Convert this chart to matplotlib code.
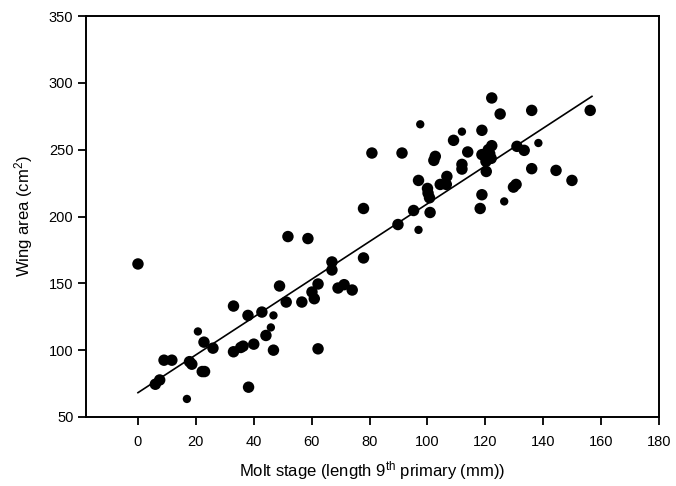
import numpy as np
import matplotlib
matplotlib.use("Agg")
import matplotlib.pyplot as plt

plt.rcParams['font.family'] = ['Liberation Sans', 'DejaVu Sans']
plt.rcParams['mathtext.default'] = 'regular'

# molt stage (mm) and wing area (cm2)
molt = [0, 6, 7.5, 9, 11.7, 17.8, 18.6, 22.8, 22.2, 23, 25.9, 33, 33, 35.5, 36.3,
        38, 38.2, 40, 42.8, 44.2, 46.8, 48.9, 51.8, 51.2, 56.6, 58.7, 60.1, 60.9,
        62.2, 62.2, 67, 67, 69.1, 71.2, 74, 77.9, 77.9, 80.8, 89.8, 91.2, 95.2,
        96.9, 100, 100.2, 100.7, 100.9, 102.7, 102.2, 104.4, 106.5, 106.7, 109,
        111.9, 111.9, 113.9, 118.2, 118.8, 118.8, 118.8, 120.2, 120.3, 121, 122.2,
        121.5, 122, 122.2, 125.1, 129.7, 130.6, 130.9, 133.4, 136, 136, 144.4,
        149.9, 156.2]
area = [164.5, 74.5, 77.7, 92.5, 92.5, 91.4, 89.5, 106, 84, 84, 101.5, 133, 98.8,
        102, 103, 126, 72.3, 104.5, 128.5, 111, 100, 148, 185, 136, 136, 183.5,
        143.5, 138.5, 149.5, 101, 166, 160, 146.5, 149, 145, 206, 169, 247.5, 194,
        247.5, 204.5, 227, 221, 217.5, 214, 203, 245, 242, 224, 224, 230, 257,
        239, 235.5, 248.3, 206, 264.5, 246.3, 216.3, 241.2, 233.7, 250, 253, 247,
        243.5, 288.7, 276.7, 222, 224, 252.5, 249.5, 279.4, 235.8, 234.5, 227,
        279.4]

# smaller dots
molt_small = [16.9, 20.7, 45.9, 46.8, 96.9, 97.5, 111.9, 126.5, 138.3]
area_small = [63.5, 114, 117, 126, 190, 269, 263.5, 211.3, 255]

# regression line
fit_x = [0, 156.8]
fit_y = [68.2, 289.9]

fig = plt.figure(figsize=(6.76, 4.86), dpi=100)
ax = fig.add_axes([0.127, 0.142, 0.848, 0.825])

ax.scatter(molt, area, s=68, color='black', edgecolors='none', zorder=3)
ax.scatter(molt_small, area_small, s=36, color='black', edgecolors='none', zorder=3)
ax.plot(fit_x, fit_y, color='black', lw=1.2, zorder=2)

ax.set_xlim(-18, 180)
ax.set_ylim(50, 350)
ax.set_xticks(np.arange(0, 181, 20))
ax.set_yticks(np.arange(50, 351, 50))
ax.tick_params(direction='out', length=6, width=1.3, labelsize=10.5, colors='black')
ax.tick_params(axis='x', pad=7)
ax.tick_params(axis='y', pad=3)
for sp in ax.spines.values():
    sp.set_linewidth(1.4)

ax.set_xlabel('Molt stage (length 9$^{th}$ primary (mm))', fontsize=12, labelpad=7)
ax.set_ylabel('Wing area (cm$^2$)', fontsize=12, labelpad=10)

fig.savefig('out.png', dpi=100)
